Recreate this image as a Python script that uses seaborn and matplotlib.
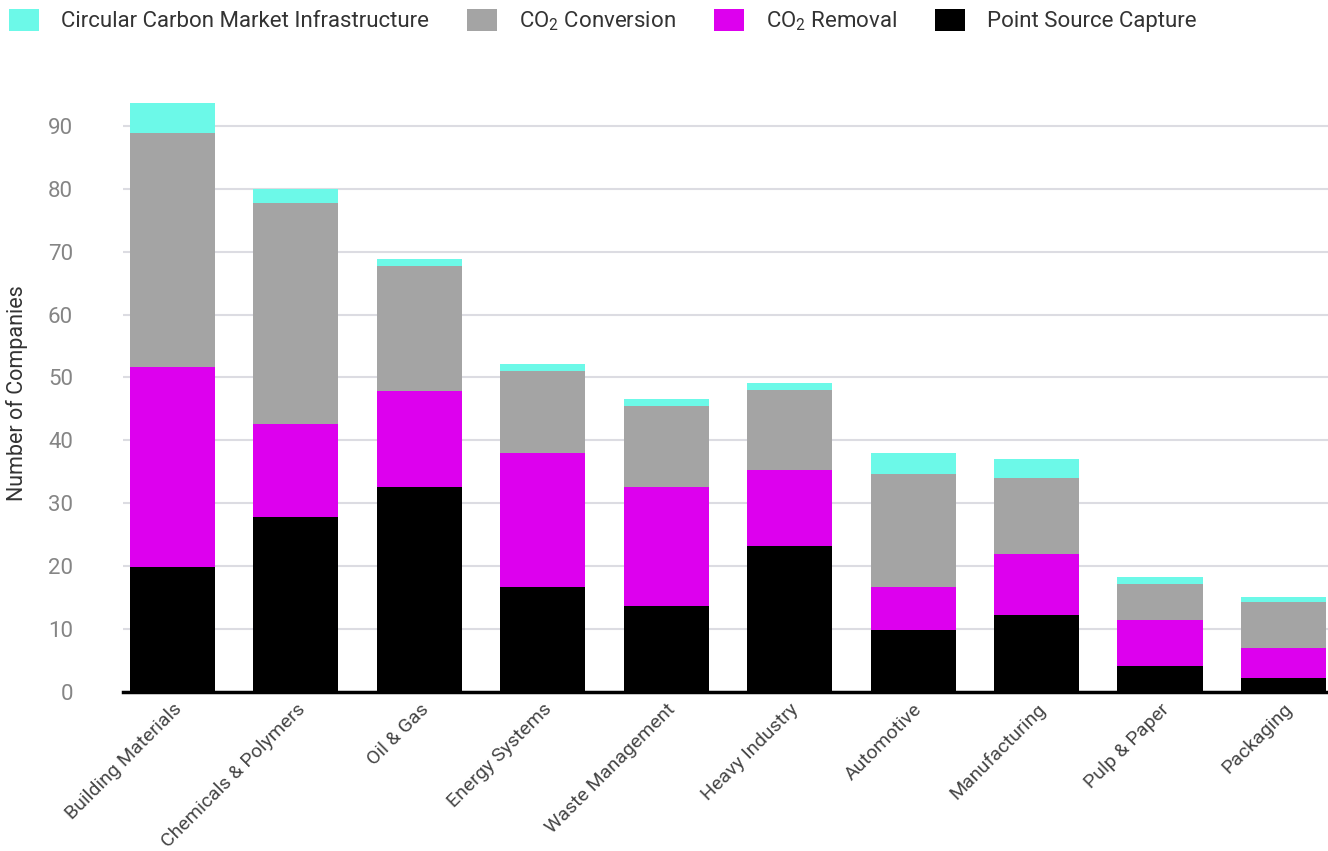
import numpy as np
import pandas as pd
import matplotlib
matplotlib.use("Agg")
import matplotlib.pyplot as plt
from matplotlib.patches import Patch
import seaborn as sns

# Values (number of companies per segment)
industries = ["Building Materials", "Chemicals & Polymers", "Oil & Gas", "Energy Systems",
              "Waste Management", "Heavy Industry", "Automotive", "Manufacturing",
              "Pulp & Paper", "Packaging"]
point_source = [19.8, 27.8, 32.5, 16.7, 13.6, 23.2, 9.8, 12.2, 4.1, 2.2]
co2_removal = [31.8, 14.8, 15.3, 21.3, 19.0, 12.1, 6.9, 9.7, 7.3, 4.8]
co2_conversion = [37.3, 35.2, 20.0, 13.0, 12.9, 12.7, 17.9, 12.1, 5.7, 7.3]
circular_market = [4.7, 2.1, 1.0, 1.1, 1.1, 1.1, 3.4, 3.0, 1.2, 0.8]

series_names = ["Point Source Capture", "CO$_2$ Removal", "CO$_2$ Conversion",
                "Circular Carbon Market Infrastructure"]
colors = ["#000000", "#dd00ee", "#a4a4a4", "#6cf9e8"]


def main():
    df = pd.DataFrame({
        "industry": industries,
        series_names[0]: point_source,
        series_names[1]: co2_removal,
        series_names[2]: co2_conversion,
        series_names[3]: circular_market,
    })

    # cumulative tops so each layer can be drawn over the one above it
    cum = df[series_names].cumsum(axis=1)

    sns.set_style("white")
    plt.rcParams["font.family"] = ["Roboto", "DejaVu Sans"]
    plt.rcParams["mathtext.default"] = "regular"

    fig = plt.figure(figsize=(13.28, 8.51), dpi=100)
    ax = fig.add_axes([0.0926, 0.187, 0.9074, 0.702])

    # draw from the tallest stack down, each layer covers the lower part
    for name, color in reversed(list(zip(series_names, colors))):
        sns.barplot(x=df["industry"], y=cum[name], color=color, width=0.69,
                    saturation=1, ax=ax, zorder=3, linewidth=0, edgecolor="none")

    ax.set_ylim(0, 95)
    ax.set_xlim(-0.4, 9.36)
    ax.set_yticks(range(0, 100, 10))
    ax.yaxis.grid(True, color="#dcdce2", linewidth=1.5, zorder=0)
    ax.set_axisbelow(True)
    for side in ["top", "right", "left"]:
        ax.spines[side].set_visible(False)
    ax.spines["bottom"].set_color("black")
    ax.spines["bottom"].set_linewidth(2.5)
    ax.spines["bottom"].set_zorder(5)

    ax.tick_params(axis="y", length=0, labelsize=16, labelcolor="#858585", pad=36)
    ax.tick_params(axis="x", length=0, labelsize=14, labelcolor="#444444", pad=6)
    ax.set_xticks(range(len(industries)))
    ax.set_xticklabels(industries, rotation=45, ha="right", rotation_mode="anchor")
    ax.set_xlabel("")
    ax.set_ylabel("Number of Companies", fontsize=15.5, color="#333333", labelpad=14)

    # legend across the top, in the reference's order
    handles = [Patch(facecolor=c, edgecolor="none") for c in reversed(colors)]
    fig.legend(handles, list(reversed(series_names)), loc="upper left",
               bbox_to_anchor=(0.0, 1.0), ncol=4, frameon=False, fontsize=16,
               handlelength=1.35, handleheight=1.13, handletextpad=1.0,
               columnspacing=1.7, borderaxespad=0.1, borderpad=0.3,
               labelcolor="#333333")

    fig.savefig("out.png", dpi=100)
    plt.close(fig)


if __name__ == "__main__":
    main()
